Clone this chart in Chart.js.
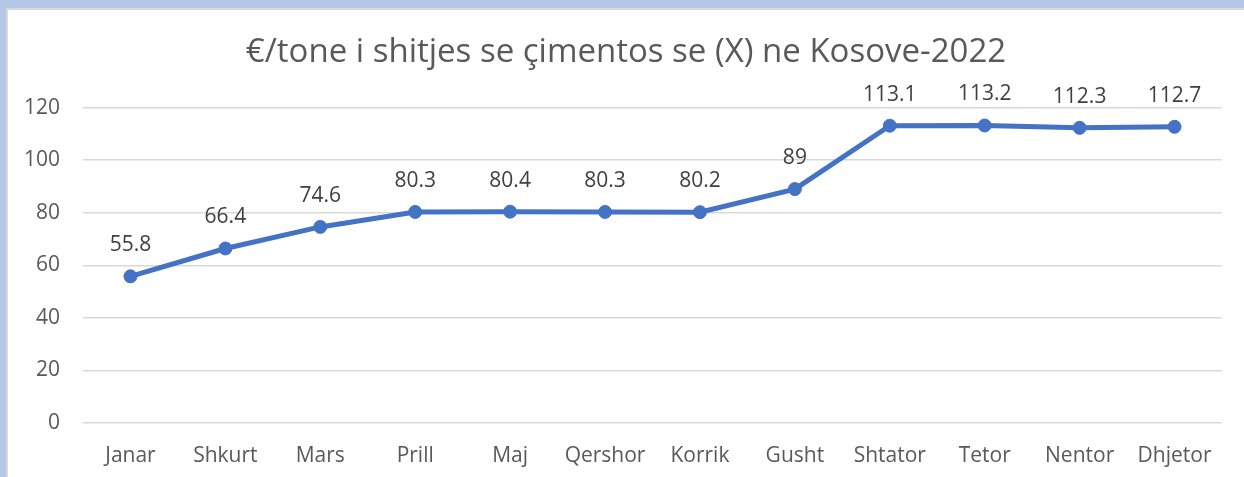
<!DOCTYPE html>
<html>
<head>
<meta charset="utf-8">
<script src="https://cdn.jsdelivr.net/npm/chart.js@4"></script>
<style>
  html, body { margin: 0; padding: 0; }
  body { width: 1244px; height: 477px; background: #b4c7e7; position: relative; overflow: hidden; }
  #panel { position: absolute; left: 6px; top: 8px; width: 1238px; height: 469px; background: #fff; border-top: 2px solid #d9d9d9; border-left: 2px solid #d9d9d9; box-sizing: border-box; }
  #c { position: absolute; left: 0; top: 0; display: block; }
</style>
</head>
<body>
<div id="panel"><canvas id="c" width="1236" height="467" style="width:1236px;height:467px"></canvas></div>
<script>
const titleText = "€/tone i shitjes se çimentos se (X) ne Kosove-2022";
const months = ["Janar", "Shkurt", "Mars", "Prill", "Maj", "Qershor", "Korrik", "Gusht", "Shtator", "Tetor", "Nentor", "Dhjetor"];
const prices = [55.8, 66.4, 74.6, 80.3, 80.4, 80.3, 80.2, 89, 113.1, 113.2, 112.3, 112.7];
const yTicks = [0, 20, 40, 60, 80, 100, 120];

const FONT = "'Open Sans', 'Noto Sans', sans-serif";

const valueLabels = {
  id: 'valueLabels',
  afterDatasetsDraw(chart) {
    const ctx = chart.ctx;
    const meta = chart.getDatasetMeta(0);
    ctx.save();
    ctx.font = "21px " + FONT;
    ctx.fillStyle = '#404040';
    ctx.textAlign = 'center';
    ctx.textBaseline = 'middle';
    meta.data.forEach((pt, i) => {
      ctx.fillText(String(chart.data.datasets[0].data[i]), pt.x, pt.y - 31);
    });
    ctx.restore();
  }
};

new Chart(document.getElementById('c'), {
  type: 'line',
  data: {
    labels: months,
    datasets: [{
      data: prices,
      borderColor: '#4472c4',
      backgroundColor: '#4472c4',
      borderWidth: 5,
      pointRadius: 6.5,
      pointBorderWidth: 1,
      pointBorderColor: '#4472c4',
      pointBackgroundColor: '#4472c4',
      tension: 0
    }]
  },
  options: {
    responsive: false,
    maintainAspectRatio: false,
    devicePixelRatio: 1,
    animation: false,
    layout: { padding: { left: 0, right: 0, top: 1, bottom: 8 } },
    plugins: {
      legend: { display: false },
      tooltip: { enabled: false },
      title: {
        display: true,
        text: titleText,
        color: '#595959',
        font: { family: FONT, size: 33, weight: 'normal' },
        padding: { top: 22, bottom: 35 }
      }
    },
    scales: {
      x: {
        offset: true,
        afterFit(scale) { scale.height = 46; },
        grid: { display: false, drawTicks: false },
        border: { display: false },
        ticks: { color: '#595959', font: { family: FONT, size: 21 }, padding: 20, maxRotation: 0, autoSkip: false }
      },
      y: {
        min: 0,
        max: 120,
        afterBuildTicks(scale) { scale.ticks = yTicks.map(v => ({ value: v })); },
        afterFit(scale) { scale.width = 75; },
        grid: { color: '#d9d9d9', lineWidth: 1.5, drawTicks: false },
        border: { display: false },
        ticks: { color: '#595959', font: { family: FONT, size: 21 }, padding: 23 }
      },
      yRight: {
        position: 'right',
        min: 0,
        max: 120,
        afterFit(scale) { scale.width = 22; },
        grid: { display: false, drawTicks: false },
        border: { display: false },
        ticks: { display: false }
      }
    }
  },
  plugins: [valueLabels]
});
</script>
</body>
</html>
